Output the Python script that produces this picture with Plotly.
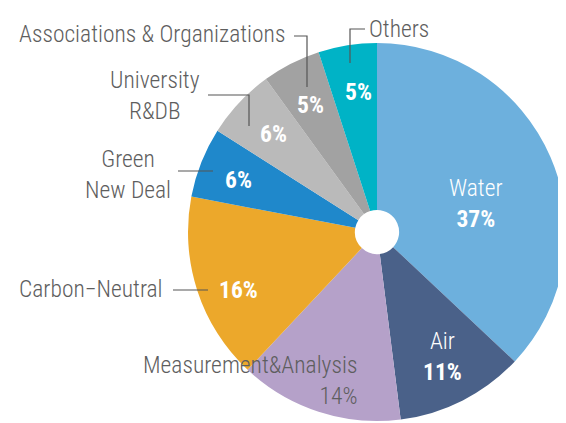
import plotly.graph_objects as go

# ---- data ----
categories = ["Water", "Air", "Measurement&Analysis", "Carbon−Neutral",
              "Green New Deal", "University R&DB", "Associations & Organizations", "Others"]
values = [37, 11, 14, 16, 6, 6, 5, 5]
colors = ["#6DB0DD", "#4A6189", "#B5A1C9", "#ECA82B", "#1F88CB", "#BABABA", "#A2A2A2", "#00B3C6"]

# page body has an 8px margin: figure fills the rest of the 566x423 window
OFF = 8
W, H = 566 - OFF, 423 - OFF
FONT = "Roboto Condensed, Roboto, sans-serif"
GRAY = "#5E5E5E"

def px(x):  # screen x -> paper
    return (x - OFF) / W

def py(y):  # screen y -> paper
    return 1 - (y - OFF) / H

fig = go.Figure(go.Pie(
    labels=categories, values=values, sort=False, direction="clockwise", rotation=0,
    hole=0.117, marker=dict(colors=colors, line=dict(width=0)),
    textinfo="none", hoverinfo="label+percent", showlegend=False,
    domain=dict(x=[px(188), 1], y=[py(421), py(43)]),
))

ann = []
def add(text, x, y, color="white", size=23.5, xanchor="center", align="center", weight=300):
    ann.append(dict(text=text, x=px(x), y=py(y), xref="paper", yref="paper", showarrow=False,
                    xanchor=xanchor, yanchor="middle", align=align,
                    font=dict(family=FONT, size=size, color=color, weight=weight)))

pct = {c: f"{v}%" for c, v in zip(categories, values)}

# inside labels
add(f"Water<br><b>{pct['Water']}</b>", 476, 204)
add(f"Air<br><b>{pct['Air']}</b>", 442, 356)
add(pct["Carbon−Neutral"], 238, 290, weight=700)
add(pct["Green New Deal"], 238, 180, weight=700)
add(pct["University R&DB"], 273, 134, weight=700)
add(pct["Associations & Organizations"], 310, 105, weight=700)
add(pct["Others"], 358, 92, weight=700)

# outside labels
add("Others", 367, 29, color=GRAY, xanchor="left")
add("Associations & Organizations", 287, 34, color=GRAY, xanchor="right")
add("University<br>R&DB", 155, 95, color=GRAY)
add("Green<br>New Deal", 128, 174, color=GRAY)
add("Carbon−Neutral", 165, 289, color=GRAY, xanchor="right")
add(f"Measurement&Analysis<br>{pct['Measurement&Analysis']}", 359, 380, color=GRAY,
    xanchor="right", align="right")

lines = [
    [(365, 29), (350, 29), (350, 63)],
    [(294, 36), (307, 36), (307, 87)],
    [(208, 95), (249, 95), (249, 126)],
    [(178, 171), (213, 171)],
    [(173, 290), (208, 290)],
]
shapes = []
for pts in lines:
    path = "M " + " L ".join(f"{px(x)},{py(y)}" for x, y in pts)
    shapes.append(dict(type="path", path=path, xref="paper", yref="paper",
                       line=dict(color="#555555", width=1.2)))

fig.update_layout(width=W, height=H, margin=dict(l=0, r=0, t=0, b=0),
                  paper_bgcolor="white", plot_bgcolor="white",
                  annotations=ann, shapes=shapes)
fig.write_html("out.html")
